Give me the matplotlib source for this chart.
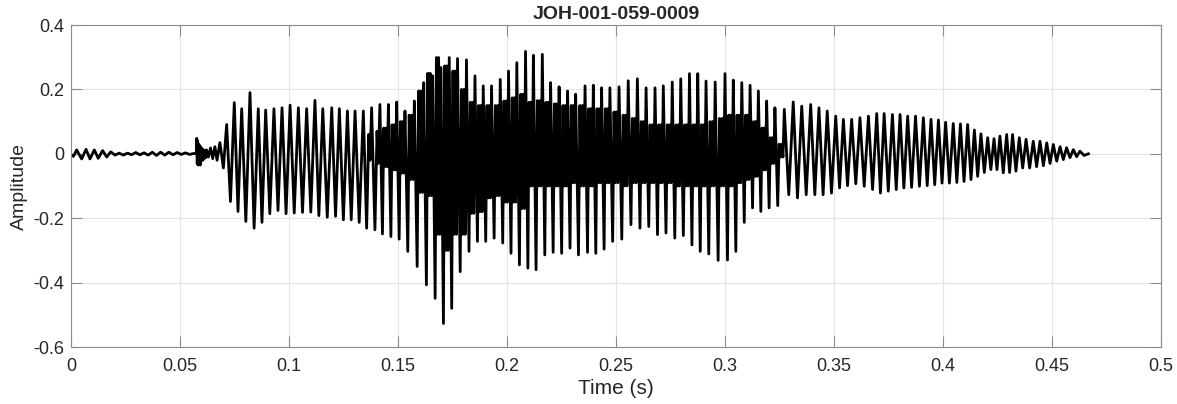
import matplotlib
matplotlib.use("Agg")
import matplotlib.pyplot as plt

plt.rcParams['font.family'] = ['Liberation Sans', 'DejaVu Sans']
plt.rcParams['axes.unicode_minus'] = False

title = "JOH-001-059-0009"
x_label = "Time (s)"
y_label = "Amplitude"
x_ticks = [0, 0.05, 0.1, 0.15, 0.2, 0.25, 0.3, 0.35, 0.4, 0.45, 0.5]
x_tick_labels = ["0", "0.05", "0.1", "0.15", "0.2", "0.25", "0.3", "0.35", "0.4", "0.45", "0.5"]
y_ticks = [-0.6, -0.4, -0.2, 0, 0.2, 0.4]
y_tick_labels = ["-0.6", "-0.4", "-0.2", "0", "0.2", "0.4"]

# lead-in (silence wiggles, onset burst) : sample times and values
lead_t = [0.0000, 0.0011, 0.0026, 0.0049, 0.0069, 0.0087, 0.0107, 0.0125, 0.0145, 0.0164,
          0.0182, 0.0202, 0.0221, 0.0240, 0.0259, 0.0278, 0.0297, 0.0316, 0.0335, 0.0354,
          0.0373, 0.0392, 0.0411, 0.0430, 0.0449, 0.0468, 0.0487, 0.0506, 0.0525, 0.0544,
          0.0563, 0.0575, 0.0577, 0.0579, 0.0581, 0.0583, 0.0586, 0.0588, 0.0591, 0.0593,
          0.0596, 0.0599, 0.0602, 0.0605, 0.0608, 0.0611, 0.0614, 0.0618, 0.0622, 0.0630,
          0.0640, 0.0650, 0.0660, 0.0670, 0.0683, 0.0699]
lead_v = [-0.002, -0.008, 0.012, -0.016, 0.014, -0.016, 0.012, -0.014, 0.010, -0.010,
          0.006, -0.004, 0.002, -0.004, 0.002, -0.003, 0.004, -0.003, 0.003, -0.004,
          0.005, -0.005, 0.005, -0.004, 0.005, -0.003, 0.004, -0.002, 0.003, -0.002,
          0.001, 0.000, 0.048, -0.030, 0.040, -0.035, 0.030, -0.030, 0.025, -0.035,
          0.020, -0.020, 0.015, -0.020, 0.012, -0.015, 0.010, -0.012, 0.012, -0.010,
          0.018, -0.015, 0.022, -0.020, 0.035, -0.044]

# voiced part: one entry per glottal cycle (start time, main peak, main trough,
# inner high level, inner low level, number of inner oscillations)
cycle_t = [0.0714, 0.0749, 0.0783, 0.0821, 0.0859, 0.0893, 0.0931, 0.0968, 0.1005, 0.1043,
           0.1081, 0.1119, 0.1155, 0.1196, 0.1231, 0.1268, 0.1303, 0.1341, 0.1379, 0.1417,
           0.1456, 0.1494, 0.1532,
           0.1575, 0.1618, 0.1659, 0.1697, 0.1735, 0.1773, 0.1814, 0.1853, 0.1891, 0.1929,
           0.1969, 0.2007, 0.2045,
           0.2085, 0.2121, 0.2162, 0.2200, 0.2239, 0.2278, 0.2315, 0.2358, 0.2396, 0.2434,
           0.2472, 0.2514,
           0.2556, 0.2598, 0.2638, 0.2679, 0.2717, 0.2758, 0.2797, 0.2837, 0.2875, 0.2913,
           0.2955, 0.3000,
           0.3038, 0.3077, 0.3115, 0.3153, 0.3191, 0.3229, 0.3272, 0.3313, 0.3352, 0.3393,
           0.3431,
           0.3469, 0.3508, 0.3543, 0.3581, 0.3619, 0.3658, 0.3696, 0.3730, 0.3768, 0.3803,
           0.3838, 0.3874, 0.3910,
           0.3945, 0.3979, 0.4012, 0.4047, 0.4080, 0.4113, 0.4144, 0.4174, 0.4205, 0.4234,
           0.4261, 0.4292, 0.4319, 0.4350, 0.4381,
           0.4414, 0.4445, 0.4476, 0.4506, 0.4537, 0.4567, 0.4598, 0.4628]
cycle_peak = [0.091, 0.159, 0.140, 0.190, 0.140, 0.136, 0.140, 0.143, 0.151, 0.143,
              0.140, 0.166, 0.140, 0.143, 0.140, 0.133, 0.133, 0.133, 0.143, 0.153,
              0.153, 0.161, 0.133,
              0.164, 0.221, 0.242, 0.268, 0.299, 0.296, 0.292, 0.242, 0.211, 0.211,
              0.231, 0.257, 0.283,
              0.318, 0.306, 0.309, 0.221, 0.208, 0.195, 0.185, 0.211, 0.213, 0.205,
              0.205, 0.208,
              0.227, 0.233, 0.205, 0.205, 0.211, 0.223, 0.233, 0.249, 0.249, 0.226,
              0.223, 0.249,
              0.229, 0.221, 0.213, 0.195, 0.164, 0.143, 0.138, 0.161, 0.148, 0.153,
              0.143,
              0.133, 0.117, 0.107, 0.107, 0.112, 0.117, 0.125, 0.125, 0.122, 0.122,
              0.117, 0.117, 0.112,
              0.107, 0.105, 0.098, 0.094, 0.093, 0.091, 0.074, 0.062, 0.050, 0.047,
              0.055, 0.060, 0.060, 0.050, 0.045,
              0.039, 0.039, 0.034, 0.029, 0.022, 0.019, 0.013, 0.008]
cycle_trough = [-0.148, -0.179, -0.210, -0.231, -0.213, -0.186, -0.176, -0.186, -0.184, -0.182,
                -0.181, -0.192, -0.197, -0.194, -0.205, -0.205, -0.213, -0.231, -0.236, -0.249,
                -0.257, -0.265, -0.303,
                -0.350, -0.407, -0.449, -0.527, -0.480, -0.366, -0.303, -0.272, -0.272, -0.262,
                -0.277, -0.309, -0.345,
                -0.355, -0.360, -0.314, -0.306, -0.309, -0.293, -0.314, -0.306, -0.309, -0.296,
                -0.272, -0.265,
                -0.220, -0.231, -0.226, -0.251, -0.246, -0.262, -0.254, -0.283, -0.303, -0.311,
                -0.331, -0.330,
                -0.303, -0.213, -0.168, -0.179, -0.168, -0.161, -0.127, -0.137, -0.127, -0.127,
                -0.127,
                -0.122, -0.106, -0.099, -0.093, -0.101, -0.111, -0.122, -0.116, -0.111, -0.106,
                -0.104, -0.101, -0.099,
                -0.096, -0.091, -0.091, -0.089, -0.086, -0.080, -0.070, -0.058, -0.049, -0.049,
                -0.059, -0.058, -0.054, -0.044, -0.044,
                -0.040, -0.037, -0.030, -0.023, -0.018, -0.012, -0.009, -0.005]
cycle_inner_hi = [0.0, 0.0, 0.0, 0.0, 0.0, 0.0, 0.0, 0.0, 0.0, 0.0,
                  0.0, 0.0, 0.0, 0.0, 0.0, 0.0, 0.0, 0.06, 0.07, 0.08,
                  0.09, 0.10, 0.12,
                  0.195, 0.250, 0.299, 0.273, 0.257, 0.200, 0.160, 0.150, 0.150, 0.150,
                  0.164, 0.174, 0.185,
                  0.16, 0.165, 0.16, 0.155, 0.15, 0.15, 0.15, 0.14, 0.14, 0.14,
                  0.13, 0.12,
                  0.11, 0.10, 0.09, 0.09, 0.09, 0.09, 0.09, 0.09, 0.09, 0.10,
                  0.11, 0.12,
                  0.12, 0.12, 0.10, 0.08, 0.05, 0.03, 0.0, 0.0, 0.0, 0.0,
                  0.0,
                  0.0, 0.0, 0.0, 0.0, 0.0, 0.0, 0.0, 0.0, 0.0, 0.0,
                  0.0, 0.0, 0.0,
                  0.0, 0.0, 0.0, 0.0, 0.0, 0.0, 0.0, 0.0, 0.0, 0.0,
                  0.0, 0.0, 0.0, 0.0, 0.0,
                  0.0, 0.0, 0.0, 0.0, 0.0, 0.0, 0.0, 0.0]
cycle_inner_lo = [0.00, 0.00, 0.00, 0.00, 0.00, 0.00, 0.00, 0.00, 0.00, 0.00,
                  0.00, 0.00, 0.00, 0.00, 0.00, 0.00, 0.00, -0.02, -0.03, -0.04,
                  -0.05, -0.06, -0.08,
                  -0.12, -0.13, -0.25, -0.30, -0.25, -0.25, -0.185, -0.18, -0.137, -0.13,
                  -0.15, -0.15, -0.17,
                  -0.10, -0.10, -0.10, -0.10, -0.10, -0.09, -0.10, -0.10, -0.09, -0.09,
                  -0.09, -0.10,
                  -0.09, -0.09, -0.09, -0.09, -0.09, -0.10, -0.10, -0.10, -0.10, -0.10,
                  -0.10, -0.10,
                  -0.09, -0.08, -0.07, -0.05, -0.03, -0.01, 0.0, 0.0, 0.0, 0.0,
                  0.0,
                  0.0, 0.0, 0.0, 0.0, 0.0, 0.0, 0.0, 0.0, 0.0, 0.0,
                  0.0, 0.0, 0.0,
                  0.0, 0.0, 0.0, 0.0, 0.0, 0.0, 0.0, 0.0, 0.0, 0.0,
                  0.0, 0.0, 0.0, 0.0, 0.0,
                  0.0, 0.0, 0.0, 0.0, 0.0, 0.0, 0.0, 0.0]
cycle_inner_n = ([0] * 17 + [1] * 2 + [2] * 4       # 0.071 - 0.153
                 + [2] * 13 + [2] * 12 + [2] * 12   # 0.157 - 0.300
                 + [2] * 6 + [0] * 5                # 0.304 - 0.343
                 + [0] * 13 + [0] * 15 + [0] * 8)   # 0.347 - 0.463
end_t = 0.4667
end_v = 0.0

# position of the samples inside each cycle (fraction of its period),
# keyed by the number of inner oscillations
phase_sets = {0: [0.0, 0.5],
              1: [0.0, 0.4, 0.65, 0.8],
              2: [0.0, 0.3, 0.45, 0.58, 0.72, 0.86]}

ts = list(lead_t)
vs = list(lead_v)
for i, t0 in enumerate(cycle_t):
    t1 = cycle_t[i + 1] if i + 1 < len(cycle_t) else end_t
    per = t1 - t0
    n = cycle_inner_n[i] if i < len(cycle_inner_n) else 0
    vals = [cycle_peak[i], cycle_trough[i]] + [cycle_inner_hi[i], cycle_inner_lo[i]] * n
    for ph, v in zip(phase_sets[n], vals):
        ts.append(t0 + ph * per)
        vs.append(v)
ts.append(end_t)
vs.append(end_v)

W, H = 1177, 404
fig = plt.figure(figsize=(W / 100, H / 100), dpi=100)
ax = fig.add_axes([71 / W, 1 - 347 / H, 1090 / W, 322 / H])
ax.plot(ts, vs, color='black', lw=2.0)

ax.set_xlim(0, 0.5)
ax.set_ylim(-0.6, 0.4)
ax.set_xticks(x_ticks)
ax.set_xticklabels(x_tick_labels)
ax.set_yticks(y_ticks)
ax.set_yticklabels(y_tick_labels)
ax.grid(True, color='#e3e3e3', lw=0.8)
ax.set_axisbelow(True)
for s in ax.spines.values():
    s.set_color('#8c8c8c')
    s.set_linewidth(0.8)
ax.tick_params(direction='in', length=8, width=0.8, color='#8c8c8c',
               labelsize=13, labelcolor='#262626', top=True, right=True)
ax.tick_params(axis='x', pad=8)
ax.tick_params(axis='y', pad=5)
ax.set_xlabel(x_label, fontsize=15, color='#262626', labelpad=3)
ax.set_ylabel(y_label, fontsize=14, color='#262626', labelpad=4)
ax.set_title(title, fontsize=14, fontweight='bold', color='#262626', pad=4)

fig.savefig("out.png", dpi=100)
